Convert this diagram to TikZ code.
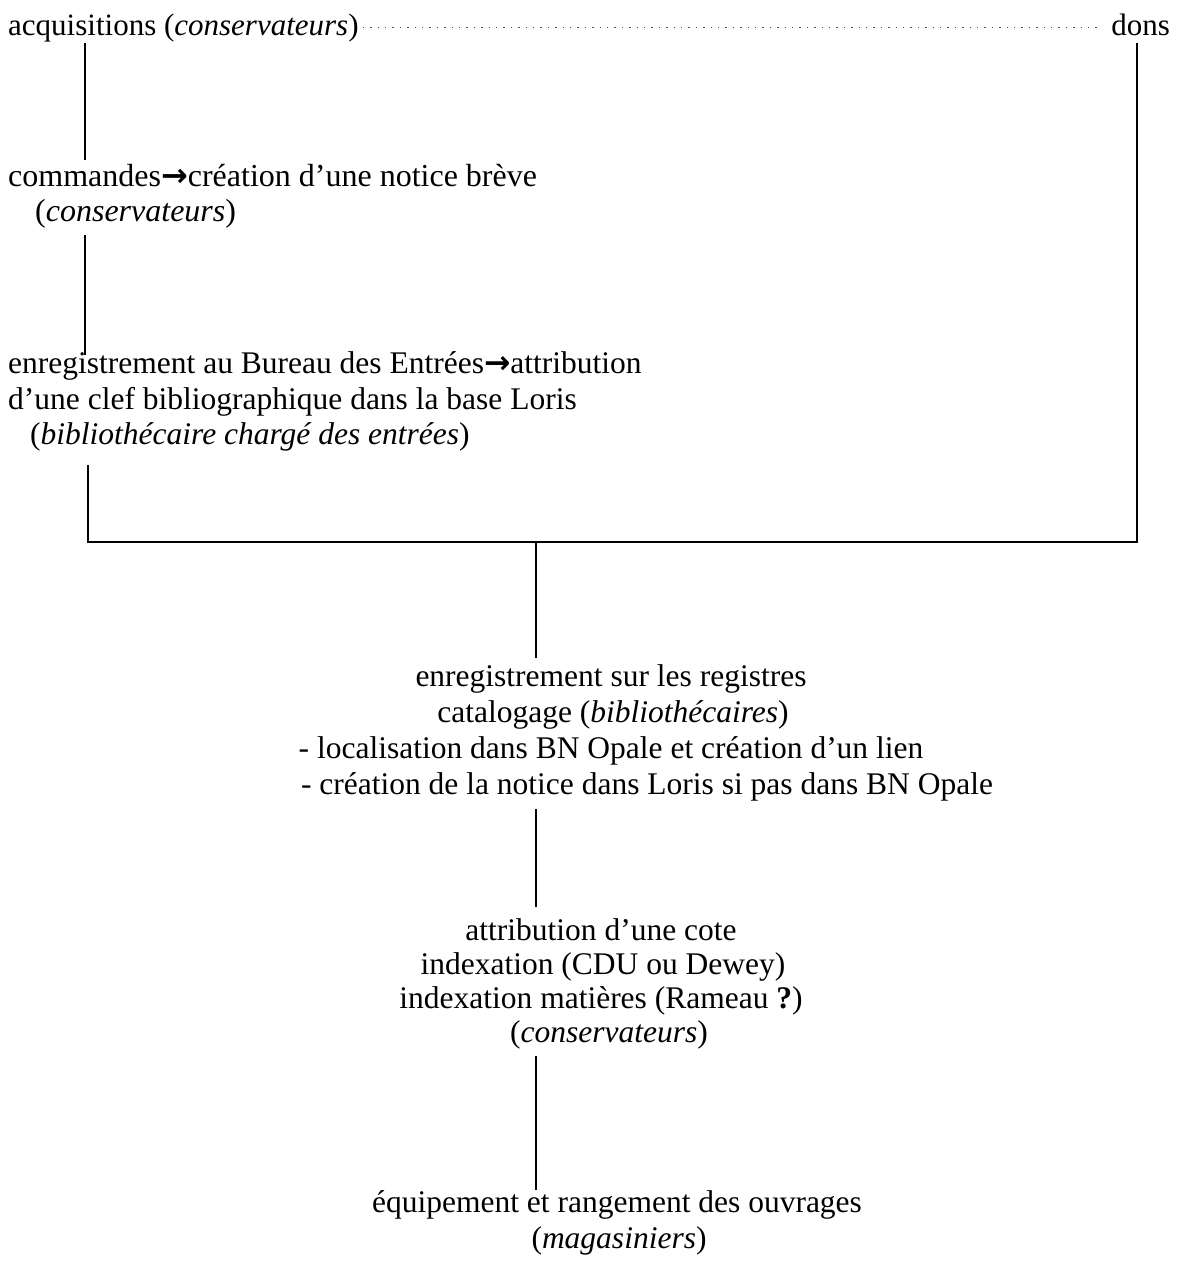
\documentclass[tikz,border=0pt]{standalone}
\usepackage{fontspec}
\setmainfont{Liberation Serif}
\newfontfamily\arrowfont{DejaVu Sans}
\newcommand{\rarr}{{\arrowfont\bfseries →}}
\begin{document}
\begin{tikzpicture}[x=1pt,y=-1pt,
  txt/.style={inner sep=0pt, anchor=base west, font=\fontsize{31}{36}\selectfont},
  ltxt/.style={txt, font=\fontsize{32}{36}\selectfont},
  btxt/.style={txt, font=\fontsize{31.5}{36}\selectfont},
  ctxt/.style={btxt, anchor=base},
  link/.style={line width=1.8pt},
  dotline/.style={line width=1pt, dash pattern=on 1.4pt off 6pt, black!70}]
\useasboundingbox (0,0) rectangle (1176,1263);
% top row
\node[txt] (acq) at (8,36) {acquisitions (\textit{conservateurs})};
\node[txt, anchor=base east] (dons) at (1170,36) {dons};
% orders
\node[ltxt] (cmd) at (8,186) {commandes\rarr création d’une notice brève};
\node[ltxt] (cmdr) at (35,221) {(\textit{conservateurs})};
% registration
\node[btxt] (reg1) at (8,373) {enregistrement au Bureau des Entrées\rarr attribution};
\node[btxt] (reg2) at (8,409) {d’une clef bibliographique dans la base Loris};
\node[btxt] (reg3) at (30,444) {(\textit{bibliothécaire chargé des entrées})};
% cataloguing
\node[ctxt] (cat1) at (611,686) {enregistrement sur les registres};
\node[ctxt] (cat2) at (613,722) {catalogage (\textit{bibliothécaires})};
\node[ctxt] (cat3) at (611,758) {- localisation dans BN Opale et création d’un lien};
\node[ctxt] (cat4) at (647,794) {- création de la notice dans Loris si pas dans BN Opale};
% call numbers
\node[ctxt] (att1) at (601,940) {attribution d’une cote};
\node[ctxt] (att2) at (603,974) {indexation (CDU ou Dewey)};
\node[ctxt] (att3) at (601,1008) {indexation matières (Rameau \textbf{?})};
\node[ctxt] (att4) at (609,1042) {(\textit{conservateurs})};
% shelving
\node[ctxt] (eq1) at (617,1212) {équipement et rangement des ouvrages};
\node[ctxt] (eq2) at (619,1248) {(\textit{magasiniers})};
% guide coordinates
\coordinate (xL) at (85,0);
\coordinate (xL2) at (88,0);
\coordinate (xR) at (1137,0);
\coordinate (xC) at (536,0);
\coordinate (yH) at (0,542);
% connectors
\draw[dotline] ([xshift=4pt,yshift=8pt]acq.base east) -- ([xshift=-9pt,yshift=8pt]dons.base west);
\draw[link] ([yshift=-7pt]acq.base -| xL) -- ([yshift=26pt]cmd.base -| xL);
\draw[link] ([yshift=-14pt]cmdr.base -| xL) -- ([yshift=18pt]reg1.base -| xL);
\draw[link] ([yshift=-21pt]reg3.base -| xL2) -- (xL2 |- yH) -- (xR |- yH) -- ([yshift=-7pt]dons.base -| xR);
\draw[link] (xC |- yH) -- ([yshift=28pt]cat1.base -| xC);
\draw[link] ([yshift=-15pt]cat4.base -| xC) -- ([yshift=33pt]att1.base -| xC);
\draw[link] ([yshift=-14pt]att4.base -| xC) -- ([yshift=22pt]eq1.base -| xC);
\end{tikzpicture}
\end{document}
